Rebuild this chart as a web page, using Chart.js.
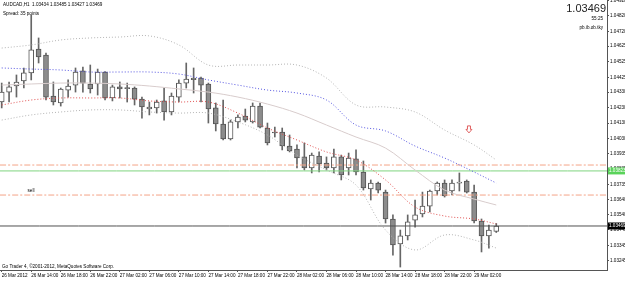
<!DOCTYPE html>
<html lang="en">
<head>
<meta charset="UTF-8" />
<title>AUDCAD,H1</title>
<script src="https://cdn.jsdelivr.net/npm/chart.js"></script>
<style>
  html, body { margin: 0; padding: 0; background: #fff; }
  #wrap { position: relative; width: 625px; height: 282px; }
</style>
</head>
<body>
<div id="wrap"><canvas id="grafico"></canvas></div>
<script>
// candles, H1, bar 0 = 26 Mar 10:00
const opens  = [1.04266,1.04330,1.04369,1.04401,1.04453,1.04607,1.04568,1.04305,1.04260,1.04343,
                1.04375,1.04466,1.04382,1.04382,1.04459,1.04292,1.04363,1.04356,1.04356,1.04285,
                1.04221,1.04228,1.04273,1.04202,1.04298,1.04388,1.04420,1.04420,1.04382,1.04228,
                1.04125,1.04028,1.04138,1.04176,1.04138,1.04240,1.04099,1.04073,1.04073,1.03983,
                1.03964,1.03913,1.03842,1.03919,1.03874,1.03842,1.03913,1.03842,1.03900,1.03816,
                1.03707,1.03745,1.03687,1.03514,1.03353,1.03405,1.03507,1.03546,1.03597,1.03694,
                1.03745,1.03694,1.03745,1.03758,1.03687,1.03501,1.03405,1.03434];
const highs  = [1.04388,1.04395,1.04440,1.04485,1.04826,1.04678,1.04581,1.04395,1.04356,1.04408,
                1.04485,1.04491,1.04504,1.04478,1.04462,1.04375,1.04395,1.04388,1.04363,1.04298,
                1.04266,1.04279,1.04356,1.04324,1.04408,1.04517,1.04485,1.04427,1.04388,1.04260,
                1.04279,1.04150,1.04183,1.04221,1.04260,1.04260,1.04131,1.04105,1.04099,1.04054,
                1.03990,1.04003,1.03938,1.03945,1.03913,1.03964,1.03925,1.03938,1.03958,1.03887,
                1.03765,1.03752,1.03700,1.03540,1.03443,1.03540,1.03636,1.03687,1.03700,1.03752,
                1.03765,1.03765,1.03810,1.03765,1.03732,1.03514,1.03475,1.03485];
const lows   = [1.04228,1.04266,1.04298,1.04356,1.04408,1.04517,1.04279,1.04247,1.04240,1.04298,
                1.04330,1.04330,1.04324,1.04311,1.04279,1.04273,1.04292,1.04266,1.04247,1.04163,
                1.04183,1.04195,1.04150,1.04183,1.04266,1.04356,1.04324,1.04266,1.04131,1.04080,
                1.04022,1.04022,1.04099,1.04138,1.04131,1.04099,1.03990,1.04041,1.03958,1.03945,
                1.03842,1.03829,1.03810,1.03816,1.03829,1.03810,1.03765,1.03797,1.03797,1.03700,
                1.03636,1.03681,1.03488,1.03282,1.03205,1.03379,1.03462,1.03527,1.03559,1.03668,
                1.03655,1.03668,1.03694,1.03681,1.03488,1.03302,1.03327,1.03427];
const closes = [1.04330,1.04363,1.04395,1.04453,1.04601,1.04556,1.04298,1.04266,1.04350,1.04369,
                1.04459,1.04388,1.04350,1.04459,1.04292,1.04363,1.04350,1.04352,1.04285,1.04234,
                1.04234,1.04266,1.04202,1.04305,1.04388,1.04414,1.04410,1.04375,1.04221,1.04125,
                1.04028,1.04138,1.04170,1.04150,1.04240,1.04105,1.04003,1.04067,1.03983,1.03951,
                1.03906,1.03842,1.03925,1.03868,1.03842,1.03913,1.03797,1.03906,1.03816,1.03713,
                1.03745,1.03700,1.03514,1.03347,1.03405,1.03495,1.03540,1.03597,1.03694,1.03745,
                1.03662,1.03745,1.03752,1.03687,1.03501,1.03405,1.03443,1.03469];

// indicator lines read every 4 bars
const bandBars   = [0,4,8,12,16,20,24,28,32,36,40,44,48,52,56,60,64,67];
const upperBand  = [1.04613,1.04633,1.04665,1.04678,1.04684,1.04691,1.04633,1.04504,1.04504,1.04504,
                    1.04504,1.04420,1.04247,1.04234,1.04202,1.04086,1.03990,1.03893];
const blueLine   = [1.04485,1.04478,1.04472,1.04459,1.04459,1.04459,1.04446,1.04408,1.04375,1.04343,
                    1.04324,1.04279,1.04118,1.04080,1.03983,1.03906,1.03816,1.03745];
const middleLine = [1.04375,1.04382,1.04388,1.04388,1.04382,1.04369,1.04350,1.04330,1.04298,1.04253,
                    1.04195,1.04118,1.04041,1.03970,1.03829,1.03700,1.03642,1.03604];
const redLine    = [1.04247,1.04279,1.04292,1.04292,1.04292,1.04273,1.04266,1.04266,1.04195,1.04099,
                    1.04022,1.03945,1.03893,1.03765,1.03591,1.03533,1.03514,1.03482];
const lowerBand  = [1.04150,1.04183,1.04202,1.04215,1.04215,1.04202,1.04195,1.04195,1.04138,1.04054,
                    1.03925,1.03829,1.03732,1.03443,1.03315,1.03411,1.03379,1.03327];

const levelSellTop = 1.03861;
const levelGreen   = 1.03823;
const levelSell    = 1.03668;
const bidPrice     = 1.03469;

const timeLabels = ['26 Mar 2012','26 Mar 14:00','26 Mar 18:00','26 Mar 22:00','27 Mar 02:00','27 Mar 06:00',
                    '27 Mar 10:00','27 Mar 14:00','27 Mar 18:00','27 Mar 22:00','28 Mar 02:00','28 Mar 06:00',
                    '28 Mar 10:00','28 Mar 14:00','28 Mar 18:00','28 Mar 22:00','29 Mar 02:00'];
const priceTicks = [1.03145,1.03245,1.03345,1.03445,1.03540,1.03640,1.03735,1.03835,1.03935,1.04030,
                    1.04130,1.04230,1.04330,1.04425,1.04525,1.04625,1.04720,1.04820,1.04920];

const arrowBar = 63.3, arrowPrice = 1.04090;
const sellBar = 3.5, sellPrice = 1.03690;

const X_MIN = -0.23, X_MAX = 82.0;
const Y_MIN = 1.03186, Y_MAX = 1.04922;
const FONT = '"Liberation Sans", Arial, sans-serif';

const bodies = opens.map((o, i) => ({x: i, y: [o, closes[i]]}));
const wicks = lows.map((l, i) => ({x: i, y: [l, highs[i]]}));
const band = arr => bandBars.map((b, j) => ({x: b, y: arr[j]}));
const level = v => [{x: X_MIN, y: v}, {x: X_MAX, y: v}];

const lineDs = (data, color, dash, order) => ({
  type: 'line', data, borderColor: color, borderWidth: 1, borderDash: dash,
  pointRadius: 0, tension: 0.35, order: order
});

// texts, arrow and price boxes
const extras = {
  id: 'extras',
  afterDraw(chart) {
    const {ctx, scales: {x, y}} = chart;
    ctx.save();
    ctx.textBaseline = 'top';
    ctx.fillStyle = '#000';
    ctx.font = '4.6px ' + FONT;
    ctx.fillText('AUDCAD,H1  ' + opens[67].toFixed(5) + ' ' + highs[67].toFixed(5) + ' ' +
                 lows[67].toFixed(5) + ' ' + closes[67].toFixed(5), 3, 2);
    ctx.fillText('Spread: 35 points', 3, 11);
    ctx.fillText('Go Trader 4, \u00A92001-2012, MetaQuotes Software Corp.', 2, 264);
    ctx.fillText('sell', x.getPixelForValue(sellBar), y.getPixelForValue(sellPrice) - 3);

    ctx.textAlign = 'right';
    ctx.font = '11px ' + FONT;
    ctx.fillStyle = '#222';
    ctx.fillText(bidPrice.toFixed(5), 606, 3);
    ctx.font = '4.6px ' + FONT;
    ctx.fillStyle = '#000';
    ctx.fillText('55:25', 603, 16);
    ctx.fillText('pb.ib.ob.tky', 603, 25);

    // price boxes on the axis
    const box = (v, bg, fg) => {
      const py = y.getPixelForValue(v);
      ctx.fillStyle = bg;
      ctx.fillRect(608, py - 3.5, 17, 7);
      ctx.fillStyle = fg;
      ctx.textAlign = 'left';
      ctx.textBaseline = 'middle';
      ctx.fillText(v.toFixed(5), 609, py);
    };
    box(levelGreen, '#5ad35a', '#fff');
    box(bidPrice, '#000', '#fff');

    // sell arrow
    const ax = x.getPixelForValue(arrowBar), ay = y.getPixelForValue(arrowPrice);
    ctx.strokeStyle = '#e06060';
    ctx.lineWidth = 1;
    ctx.beginPath();
    ctx.moveTo(ax - 1.5, ay - 3.5); ctx.lineTo(ax + 1.5, ay - 3.5); ctx.lineTo(ax + 1.5, ay);
    ctx.lineTo(ax + 3, ay); ctx.lineTo(ax, ay + 3.5); ctx.lineTo(ax - 3, ay);
    ctx.lineTo(ax - 1.5, ay); ctx.closePath();
    ctx.stroke();
    ctx.restore();
  }
};

new Chart(document.getElementById('grafico'), {
  type: 'bar',
  data: {
    datasets: [
      lineDs(band(upperBand), '#b4b4b4', [1, 2], 0),
      lineDs(band(blueLine), '#5555e0', [1, 2], 0),
      lineDs(band(middleLine), '#d8cccc', [], 0),
      lineDs(band(redLine), '#e05050', [1, 2], 0),
      lineDs(band(lowerBand), '#b4b4b4', [1, 2], 0),
      lineDs(level(levelSellTop), '#f4a488', [6, 2, 2, 2], 0),
      lineDs(level(levelSell), '#f4a488', [6, 2, 2, 2], 0),
      lineDs(level(levelGreen), '#7fd47f', [], 0),
      lineDs(level(bidPrice), '#505050', [], 0),
      {
        data: bodies, grouped: false, barThickness: 5, order: 1,
        backgroundColor: opens.map((o, i) => closes[i] >= o ? '#ffffff' : '#8c8c8c'),
        borderColor: '#555', borderWidth: 1, borderSkipped: false, minBarLength: 1
      },
      {
        data: wicks, grouped: false, barThickness: 1, order: 2,
        backgroundColor: '#666'
      }
    ]
  },
  options: {
    responsive: true,
    maintainAspectRatio: false,
    animation: false,
    layout: { padding: 0 },
    plugins: { legend: { display: false }, tooltip: { enabled: false } },
    scales: {
      x: {
        type: 'linear', position: 'bottom', min: X_MIN, max: X_MAX, offset: false,
        afterBuildTicks: s => { s.ticks = timeLabels.map((_, k) => ({value: k * 4})); },
        afterFit: s => { s.height = 12; s.paddingLeft = 0; s.paddingRight = 0; },
        ticks: {
          autoSkip: false, maxRotation: 0, align: 'start', padding: 1,
          font: { family: FONT, size: 4.6 }, color: '#000',
          callback: v => timeLabels[v / 4]
        },
        grid: { drawOnChartArea: false, offset: false, tickLength: 2, color: '#555' },
        border: { color: '#555' }
      },
      y: {
        type: 'linear', position: 'right', min: Y_MIN, max: Y_MAX,
        afterBuildTicks: s => { s.ticks = priceTicks.filter(v => v >= Y_MIN && v <= Y_MAX).map(v => ({value: v})); },
        afterFit: s => { s.width = 18; s.paddingTop = 0; s.paddingBottom = 0; },
        ticks: {
          padding: 1, font: { family: FONT, size: 4.6 }, color: '#000',
          callback: v => v.toFixed(5)
        },
        grid: { drawOnChartArea: false, tickLength: 2, color: '#555' },
        border: { color: '#555' }
      }
    }
  },
  plugins: [extras]
});
</script>
</body>
</html>
